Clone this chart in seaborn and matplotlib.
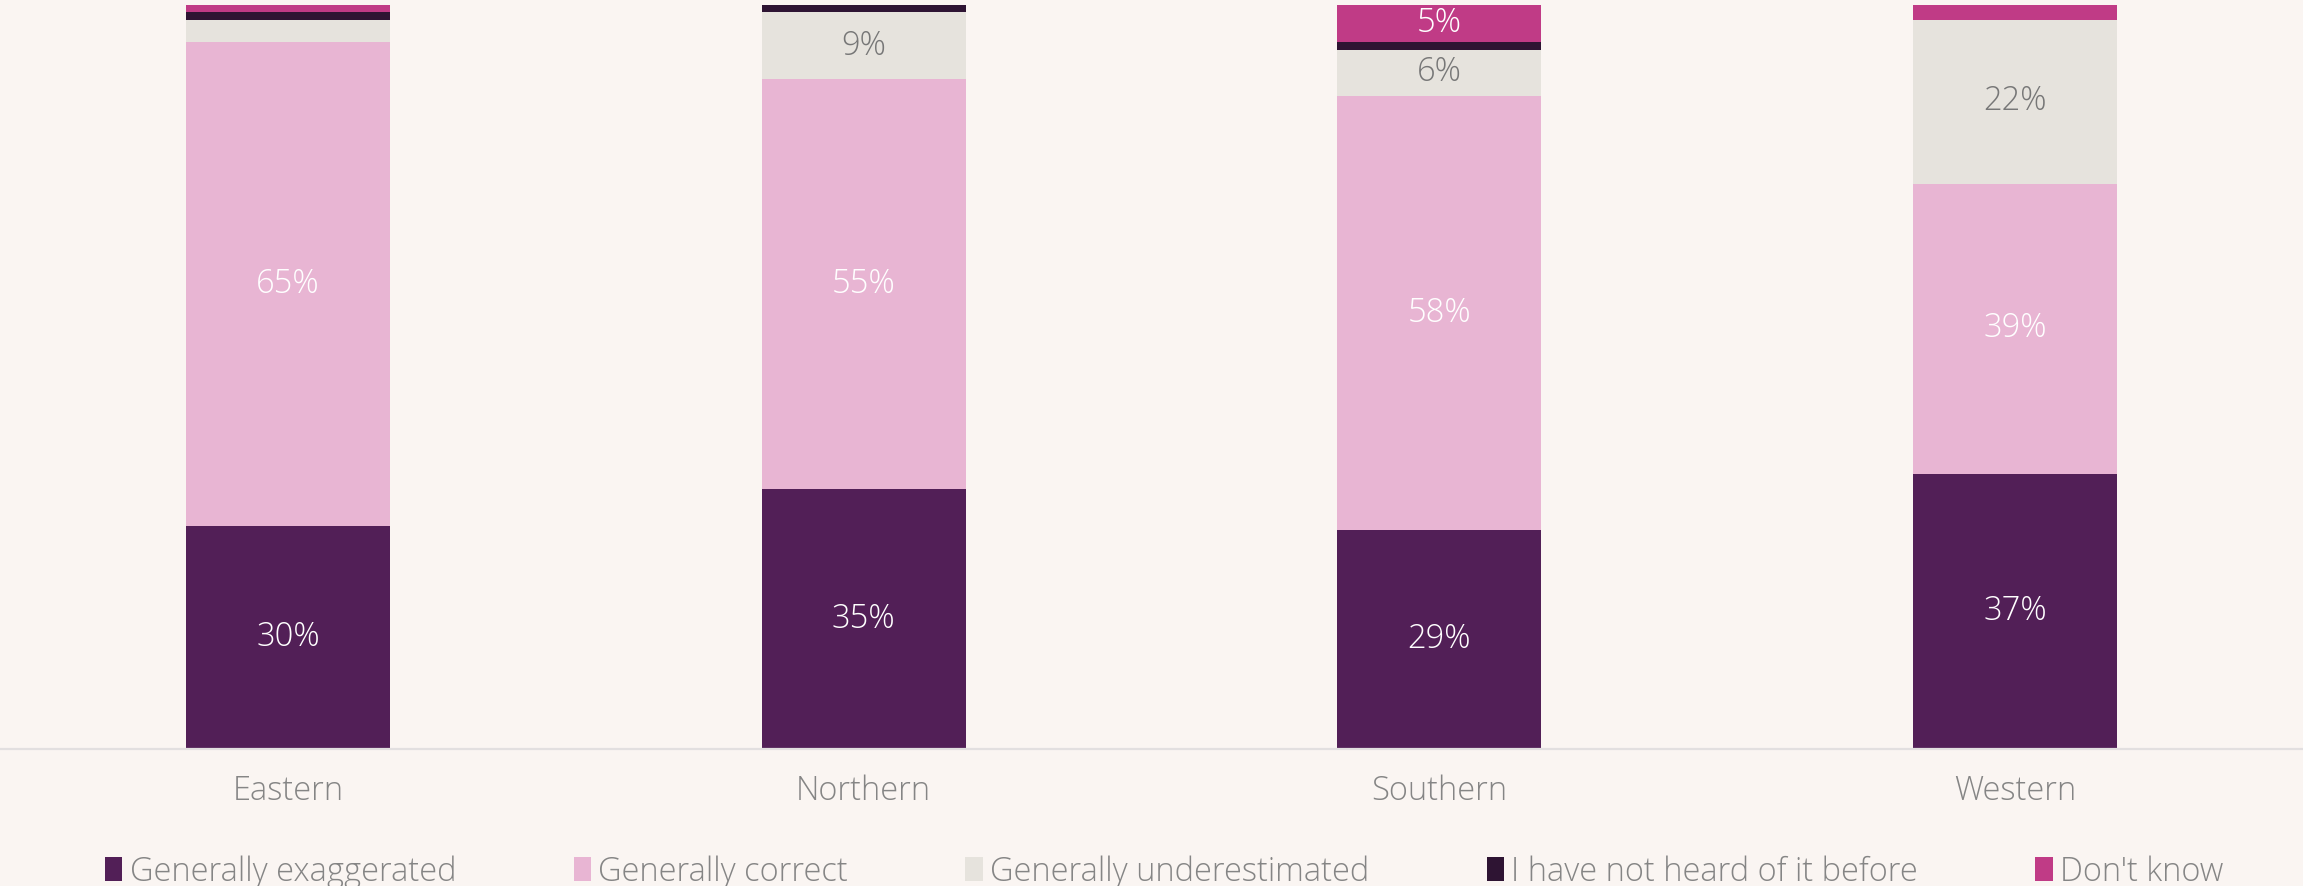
import matplotlib
matplotlib.use("Agg")
import matplotlib.pyplot as plt
from matplotlib.patches import Patch
import numpy as np
import pandas as pd
import seaborn as sns

# Survey responses by region (percent of respondents)
regions = ["Eastern", "Northern", "Southern", "Western"]
responses = [
    "Generally exaggerated",
    "Generally correct",
    "Generally underestimated",
    "I have not heard of it before",
    "Don't know",
]
exaggerated = [30.0, 35.0, 29.4, 37.0]
correct = [65.0, 55.0, 58.4, 39.0]
underestimated = [3.0, 9.0, 6.2, 22.0]
not_heard = [1.0, 1.0, 1.0, 0.0]
dont_know = [1.0, 0.0, 5.0, 2.0]

series = [exaggerated, correct, underestimated, not_heard, dont_know]
colors = ["#521f57", "#e8b5d3", "#e6e3dd", "#2e1433", "#c03b86"]
label_colors = ["#ffffff", "#ffffff", "#777777", "#ffffff", "#ffffff"]

BG = "#faf5f2"
TEXT = "#858585"
FONT = ["Open Sans", "DejaVu Sans"]
WEIGHT = 300
SIZE = 23.5

sns.set_theme(style="white")
plt.rcParams["font.family"] = FONT
plt.rcParams["font.weight"] = WEIGHT

fig = plt.figure(figsize=(23.03, 8.86), dpi=100, facecolor=BG)
ax = fig.add_axes([0.0, 0.1546, 1.0, 0.8454])
ax.set_facecolor(BG)

bottoms = np.zeros(len(regions))
for name, vals, col, lc in zip(responses, series, colors, label_colors):
    df = pd.DataFrame({"region": regions, "value": vals})
    sns.barplot(data=df, x="region", y="value", order=regions, color=col,
                saturation=1, width=0.354, bottom=bottoms, ax=ax,
                edgecolor="none", linewidth=0, err_kws={"linewidth": 0})
    cont = ax.containers[-1]
    labels = [f"{v:.0f}%" if v >= 4 else "" for v in vals]
    ax.bar_label(cont, labels=labels, label_type="center", color=lc,
                 fontsize=SIZE, fontweight=WEIGHT, family=FONT)
    bottoms = bottoms + np.array(vals)

ax.set_xlim(-0.5, 3.5)
ax.set_ylim(0, 100.67)
ax.set_xlabel("")
ax.set_ylabel("")
ax.set_yticks([])
for side in ["top", "right", "left"]:
    ax.spines[side].set_visible(False)
ax.spines["bottom"].set_color("#e2dfe0")
ax.spines["bottom"].set_linewidth(1.6)
ax.tick_params(axis="x", length=0, pad=18, labelsize=SIZE, labelcolor=TEXT)
for t in ax.get_xticklabels():
    t.set_fontweight(WEIGHT)

handles = [Patch(facecolor=c, edgecolor="none") for c in colors]
leg = fig.legend(handles, responses, loc="center", bbox_to_anchor=(0.5055, 0.016),
                 ncol=5, frameon=False, handlelength=0.53,
                 handleheight=0.75, handletextpad=0.22, columnspacing=3.6,
                 labelcolor=TEXT, prop={"family": FONT, "weight": WEIGHT, "size": SIZE})

fig.savefig("out.png", dpi=100, facecolor=BG)
